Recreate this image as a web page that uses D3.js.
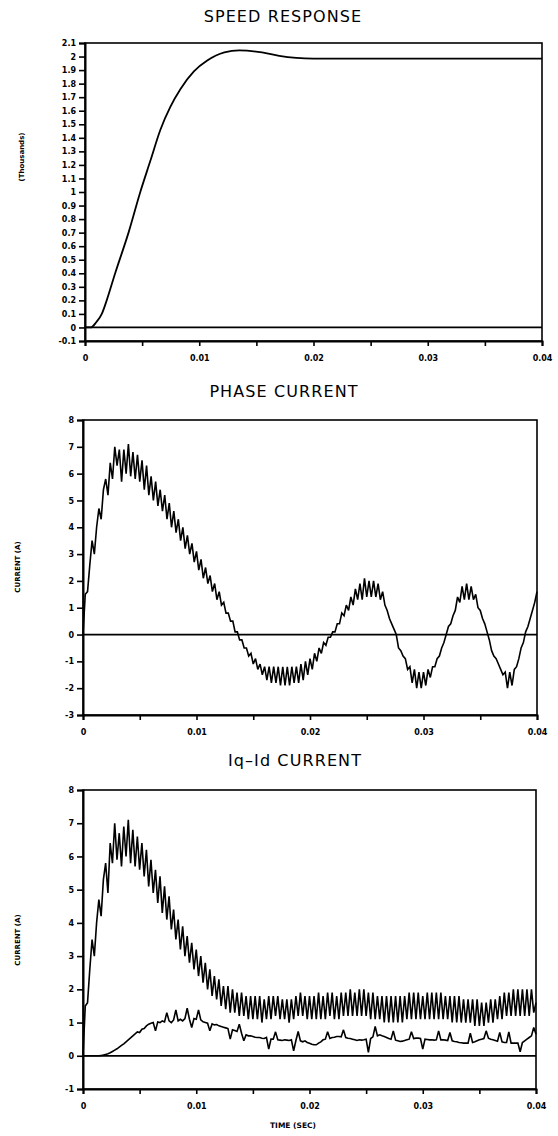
<!DOCTYPE html>
<html><head><meta charset="utf-8">
<script src="https://cdn.jsdelivr.net/npm/d3@7"></script>
<style>body{margin:0;background:#fff} svg{display:block;background:#fff}</style>
</head><body><svg id="c" width="558" height="1136"></svg>
<script>
// ---------- DATA ----------
const xTicks = [0,0.005,0.01,0.015,0.02,0.025,0.03,0.035,0.04];
const xTickLabels = ["0","","0.01","","0.02","","0.03","","0.04"];
const speedYTicks = [-0.1,0,0.1,0.2,0.3,0.4,0.5,0.6,0.7,0.8,0.9,1,1.1,1.2,1.3,1.4,1.5,1.6,1.7,1.8,1.9,2,2.1];
const phaseYTicks = [-3,-2,-1,0,1,2,3,4,5,6,7,8];
const iqdYTicks = [-1,0,1,2,3,4,5,6,7,8];

// speed response (thousands) read at these times (s)
const speedTime = [0,0.0005,0.001,0.00147,0.0019,0.00264,0.00381,0.00484,0.00572,0.0066,0.00748,0.00836,0.00953,0.0107,0.0122,0.0135,0.0155,0.017,0.0185,0.02,0.03,0.04];
const speedThousands = [0,0,0.04,0.1,0.2,0.4,0.7,1.0,1.23,1.46,1.63,1.76,1.89,1.97,2.03,2.045,2.03,2.005,1.99,1.985,1.985,1.985];

// current traces read every 0.2 ms (0 .. 40 ms)
const sampleStep = 0.0002;
const phaseCurrent = [
0,1.5,1.6,2.6,3.5,3.0,4.0,4.7,4.3,5.4,
5.8,5.2,6.4,5.8,7.0,6.3,6.9,5.7,6.9,6.0,
7.1,5.9,6.8,5.8,6.7,5.7,6.5,5.4,6.3,5.2,
5.9,5.0,5.7,4.8,5.4,4.6,5.2,4.3,4.9,4.0,
4.6,3.8,4.3,3.5,4.0,3.2,3.7,3.0,3.4,2.7,
3.1,2.4,2.8,2.1,2.5,1.9,2.2,1.6,1.9,1.3,
1.6,1.1,1.2,0.8,0.8,0.5,0.5,0.1,0.1,-0.2,
-0.2,-0.5,-0.5,-0.8,-0.7,-1.1,-0.9,-1.3,-1.1,-1.5,
-1.2,-1.7,-1.2,-1.8,-1.2,-1.8,-1.2,-1.9,-1.2,-1.9,
-1.2,-1.9,-1.2,-1.8,-1.2,-1.8,-1.1,-1.7,-1.0,-1.5,
-0.9,-1.3,-0.7,-1.0,-0.5,-0.7,-0.3,-0.4,-0.1,-0.1,
0.1,0.1,0.4,0.4,0.8,0.7,1.1,0.9,1.4,1.1,
1.7,1.3,1.9,1.3,2.1,1.4,2.0,1.4,2.0,1.4,
1.9,1.3,1.6,1.1,0.9,0.6,0.4,0.2,0.0,-0.5,
-0.6,-0.8,-0.9,-1.3,-1.2,-1.8,-1.3,-2.0,-1.4,-2.0,
-1.4,-1.9,-1.3,-1.6,-1.2,-1.2,-0.9,-0.8,-0.5,-0.3,
0.0,0.3,0.4,0.7,0.9,1.4,1.2,1.8,1.3,1.9,
1.3,1.8,1.3,1.5,1.0,0.9,0.6,0.4,0.1,-0.2,
-0.6,-0.8,-0.9,-1.1,-1.3,-1.5,-1.4,-2.0,-1.4,-1.9,
-1.3,-1.2,-0.9,-0.5,-0.3,0.1,0.3,0.6,0.9,1.2,
1.6];
const iqCurrent = [
0,1.5,1.6,2.6,3.5,3.0,4.0,4.7,4.2,5.3,
5.8,4.9,6.4,5.8,7.0,5.9,6.7,5.7,6.9,6.0,
7.1,5.8,6.8,5.7,6.6,5.6,6.4,5.4,6.2,5.1,
5.9,4.9,5.6,4.6,5.4,4.3,5.1,4.1,4.8,3.8,
4.4,3.5,4.1,3.2,3.9,3.0,3.6,2.8,3.4,2.6,
3.2,2.4,3.0,2.2,2.8,2.0,2.6,1.8,2.4,1.7,
2.3,1.5,2.1,1.4,2.1,1.3,2.0,1.3,1.9,1.2,
1.9,1.2,1.8,1.1,1.8,1.1,1.8,1.1,1.8,1.0,
1.7,1.1,1.8,1.1,1.8,1.2,1.8,1.1,1.7,1.1,
1.7,1.0,1.7,1.1,1.8,1.2,1.9,1.2,1.8,1.1,
1.8,1.1,1.8,1.1,1.9,1.1,1.8,1.1,1.9,1.2,
1.9,1.1,1.8,1.1,1.9,1.2,1.9,1.2,2.0,1.2,
1.9,1.2,2.0,1.2,2.0,1.2,1.9,1.1,1.9,1.1,
1.8,1.1,1.8,1.0,1.8,1.0,1.8,1.0,1.8,1.0,
1.8,1.0,1.8,1.1,1.9,1.1,1.9,1.1,1.9,1.1,
1.8,1.1,1.9,1.1,1.9,1.1,1.9,1.1,1.9,1.1,
1.8,1.1,1.8,1.0,1.8,1.0,1.8,1.0,1.7,1.0,
1.7,1.0,1.7,0.9,1.7,0.9,1.6,0.9,1.6,1.0,
1.7,1.0,1.7,1.1,1.8,1.1,1.9,1.2,1.9,1.2,
2.0,1.2,2.0,1.2,2.0,1.2,2.0,1.2,2.0,1.3,
1.6];
const idCurrent = [
0,0,0,0,0,0,0,0,0.01,0.02,
0.04,0.06,0.09,0.13,0.17,0.21,0.26,0.31,0.36,0.42,
0.48,0.54,0.6,0.66,0.72,0.7,0.8,0.82,0.9,0.95,
0.98,1.0,0.75,1.02,1.0,1.05,1.02,1.3,1.05,1.0,
1.08,1.38,1.05,1.1,1.05,1.12,1.43,1.1,0.85,1.12,
1.1,1.38,1.08,1.02,1.0,0.98,0.75,0.96,0.93,0.94,
0.9,0.88,0.86,0.84,0.82,0.5,0.78,0.76,0.73,0.95,
0.68,0.45,0.63,0.6,0.6,0.58,0.56,0.55,0.55,0.53,
0.52,0.55,0.2,0.5,0.5,0.72,0.48,0.47,0.46,0.48,
0.47,0.46,0.48,0.15,0.46,0.73,0.45,0.42,0.45,0.4,
0.38,0.35,0.33,0.33,0.38,0.42,0.48,0.5,0.72,0.52,
0.55,0.56,0.58,0.58,0.57,0.78,0.55,0.53,0.52,0.5,
0.48,0.46,0.48,0.47,0.48,0.5,0.1,0.52,0.57,0.88,
0.6,0.63,0.6,0.58,0.55,0.52,0.5,0.75,0.47,0.45,
0.43,0.44,0.46,0.48,0.5,0.72,0.52,0.53,0.53,0.52,
0.2,0.5,0.49,0.48,0.48,0.47,0.48,0.75,0.48,0.48,
0.47,0.46,0.7,0.45,0.43,0.42,0.4,0.39,0.38,0.38,
0.38,0.68,0.4,0.42,0.45,0.48,0.5,0.52,0.75,0.53,
0.5,0.48,0.46,0.44,0.7,0.42,0.4,0.4,0.72,0.38,
0.38,0.38,0.38,0.12,0.4,0.45,0.5,0.55,0.6,0.85,
0.65];

// ---------- DRAWING ----------
const svg = d3.select("#c");
const FONT = "'DejaVu Sans', Verdana, sans-serif";
const fmtY = v => (+v.toFixed(1)).toString();

function sampled(arr){ return arr.map((v,i)=>[i*sampleStep, v]); }

function panel(cfg){
  const x = d3.scaleLinear().domain([0,0.04]).range([cfg.x0, cfg.x1]);
  const y = d3.scaleLinear().domain(cfg.yDomain).range([cfg.yBot, cfg.yTop]);
  const g = svg.append("g");

  g.append("rect").attr("x",cfg.x0).attr("y",cfg.yTop)
    .attr("width",cfg.x1-cfg.x0).attr("height",cfg.yBot-cfg.yTop)
    .attr("fill","none").attr("stroke","#000").attr("stroke-width",1.6);

  const ya = g.append("g").attr("transform",`translate(${cfg.x0},0)`)
    .call(d3.axisLeft(y).tickValues(cfg.yTicks).tickSize(6).tickPadding(3).tickFormat(fmtY));
  ya.select(".domain").attr("stroke-width",2);
  ya.selectAll(".tick line").attr("stroke-width",1.6);
  ya.selectAll("text").attr("font-family",FONT).attr("font-weight","bold").attr("font-size",8).attr("fill","#000");

  const xa = g.append("g").attr("transform",`translate(0,${cfg.yBot})`)
    .call(d3.axisBottom(x).tickValues(xTicks).tickSize(5).tickPadding(9)
      .tickFormat((d,i)=>xTickLabels[i]));
  xa.select(".domain").attr("stroke-width",2);
  xa.selectAll(".tick line").attr("stroke-width",1.6);
  xa.selectAll("text").attr("font-family",FONT).attr("font-weight","bold").attr("font-size",8).attr("fill","#000");

  g.append("line").attr("x1",x(0)).attr("x2",x(0.04)).attr("y1",y(0)).attr("y2",y(0))
    .attr("stroke","#000").attr("stroke-width",1.8);

  const line = d3.line().x(d=>x(d[0])).y(d=>y(d[1]));
  cfg.series.forEach(s=>{
    g.append("path").datum(s.data)
      .attr("d", line.curve(s.curve || d3.curveLinear))
      .attr("fill","none").attr("stroke","#000").attr("stroke-width",s.w || 1.6)
      .attr("stroke-linejoin","miter").attr("stroke-miterlimit",3);
  });

  svg.append("text").attr("x",cfg.titleX).attr("y",cfg.titleY).attr("text-anchor","middle")
    .attr("font-family",FONT).attr("font-size",16).attr("letter-spacing",1.1).attr("fill","#000")
    .text(cfg.title);

  svg.append("text").attr("transform",`translate(${cfg.ylabX},${cfg.ylabY}) rotate(-90)`)
    .attr("text-anchor","middle").attr("font-family",FONT).attr("font-weight","bold")
    .attr("font-size",cfg.ylabSize||7).attr("fill","#000").text(cfg.ylabel);
  return {x,y};
}

panel({
  x0:85, x1:542, yTop:43, yBot:341, yDomain:[-0.1,2.1], yTicks:speedYTicks,
  title:"SPEED RESPONSE", titleX:283, titleY:22,
  ylabel:"(Thousands)", ylabX:24, ylabY:157, ylabSize:7,
  series:[{data: speedTime.map((t,i)=>[t, speedThousands[i]]), curve:d3.curveMonotoneX, w:1.8}]
});

panel({
  x0:83, x1:537, yTop:420, yBot:715, yDomain:[-3,8], yTicks:phaseYTicks,
  title:"PHASE CURRENT", titleX:284, titleY:397,
  ylabel:"CURRENT (A)", ylabX:20, ylabY:567,
  series:[{data: sampled(phaseCurrent)}]
});

panel({
  x0:83, x1:536, yTop:790, yBot:1089, yDomain:[-1,8], yTicks:iqdYTicks,
  title:"Iq\u2013Id CURRENT", titleX:295, titleY:766,
  ylabel:"CURRENT (A)", ylabX:20, ylabY:940,
  series:[{data: sampled(iqCurrent)}, {data: sampled(idCurrent)}]
});

svg.append("text").attr("x",293).attr("y",1128).attr("text-anchor","middle")
  .attr("font-family",FONT).attr("font-weight","bold").attr("font-size",7.5).attr("fill","#000")
  .text("TIME (SEC)");
</script>
</body></html>
